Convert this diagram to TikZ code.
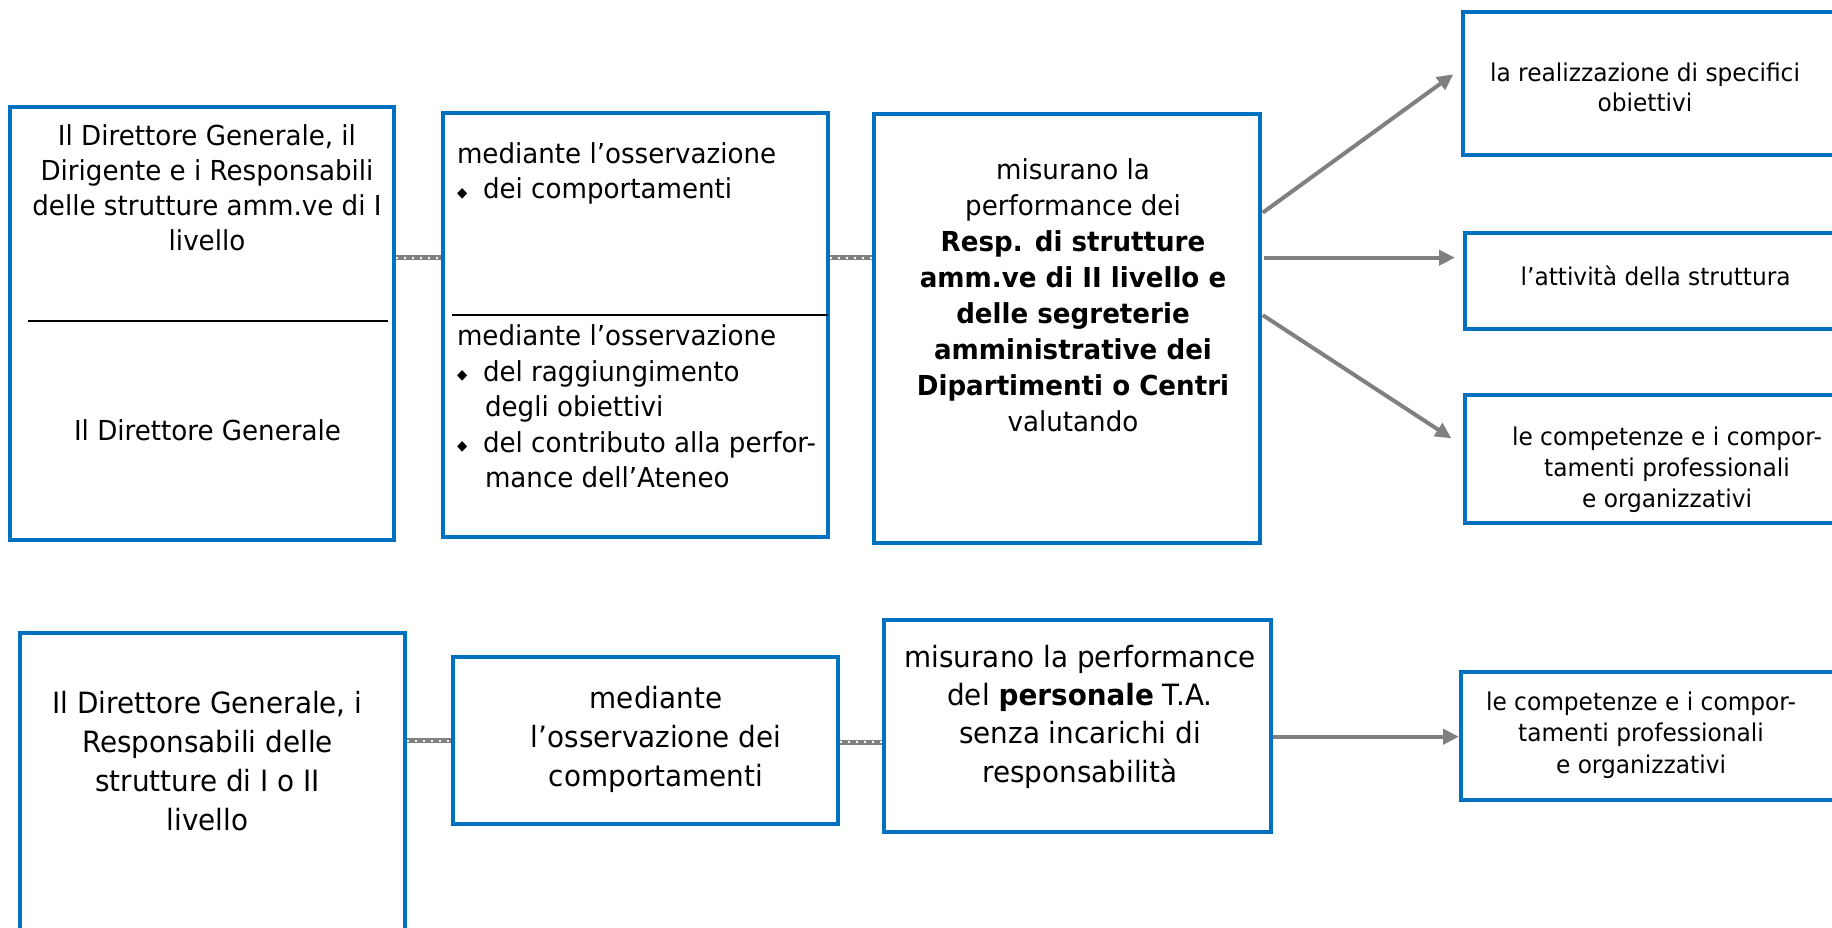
\documentclass[tikz,border=0pt]{standalone}
\usepackage{fontspec}
\setmainfont{DejaVu Sans}[FakeStretch=0.95]
\usetikzlibrary{arrows.meta}
\definecolor{boxblue}{HTML}{0070C0}
\definecolor{lgray}{HTML}{808080}
\newcommand\bul{\makebox[13pt][l]{\raisebox{0.9pt}{\fontsize{7pt}{7pt}\selectfont ◆}}}
\begin{document}
\begin{tikzpicture}[x=0.5pt,y=-0.5pt,
  box/.style={draw=boxblue,line width=2pt,rectangle,inner sep=0pt,outer sep=0pt,anchor=north west},
  txt/.style={inner sep=0pt,outer sep=0pt,align=center,anchor=north},
  ltxt/.style={inner sep=0pt,outer sep=0pt,align=left,anchor=north west},
  fA/.style={font=\fontsize{13.75pt}{17.5pt}\selectfont},
  fB/.style={font=\fontsize{13.75pt}{17.75pt}\selectfont},
  fC/.style={font=\fontsize{13.75pt}{18pt}\selectfont},
  fD/.style={font=\fontsize{14.65pt}{19.4pt}\selectfont},
  fR/.style={font=\fontsize{12.25pt}{15.4pt}\selectfont},
  conn/.style={draw=lgray,line width=2.3pt,shorten <=1pt,shorten >=1pt,
    postaction={draw=white,line width=1pt,dash pattern=on 1pt off 3pt}},
  arr/.style={draw=lgray,line width=2pt,-{Triangle[length=8pt,width=7.5pt]}},
  divider/.style={draw=black,line width=0.9pt}]
\useasboundingbox (0,0) rectangle (1832,927);
% top row boxes
\node[box,minimum width=192pt,minimum height=216.75pt] (A) at (10,106.5) {};
\node[box,minimum width=192.25pt,minimum height=212.15pt] (B) at (443,113) {};
\node[box,minimum width=192.75pt,minimum height=214.5pt] (C) at (874,113.5) {};
\node[box,minimum width=192.5pt,minimum height=71.65pt] (R1) at (1462.7,11.7) {};
\node[box,minimum width=192.5pt,minimum height=48pt] (R2) at (1464.6,233.3) {};
\node[box,minimum width=192.5pt,minimum height=64.15pt] (R3) at (1464.6,395) {};
% bottom row boxes
\node[box,minimum width=192.5pt,minimum height=155pt] (D) at (20,632.7) {};
\node[box,minimum width=192.2pt,minimum height=83.8pt] (E) at (453.3,656.7) {};
\node[box,minimum width=193.5pt,minimum height=106pt] (F) at (883.5,620) {};
\node[box,minimum width=192.5pt,minimum height=64.15pt] (G) at (1461,671.7) {};
% dividers
\draw[divider] (28,321) -- (388,321);
\draw[divider] (452,315) -- (827.5,315);
% texts
\node[txt,fA] (At1) at (207,124.6) {Il Direttore Generale, il\\Dirigente e i Responsabili\\delle strutture amm.ve di I\\livello};
\node[txt,fA] (At2) at (207.5,419.6) {Il Direttore Generale};
\node[ltxt,fB] (Bt1) at (457,142.6) {mediante l’osservazione\\\bul dei comportamenti};
\node[ltxt,fB] (Bt2) at (457,324.6) {mediante l’osservazione\\\bul del raggiungimento\\\hspace*{14pt}degli obiettivi\\\bul del contributo alla perfor-\\\hspace*{14pt}mance dell’Ateneo};
\node[txt,fC] (Ct) at (1073,159) {misurano la\\performance dei\\\textbf{Resp. di strutture}\\\textbf{amm.ve di II livello e}\\\textbf{delle segreterie}\\\textbf{amministrative dei}\\\textbf{Dipartimenti o Centri}\\valutando};
\node[txt,fR] (R1t) at (1645,62.5) {la realizzazione di specifici\\obiettivi};
\node[txt,fR] (R2t) at (1655.6,266.1) {l’attività della struttura};
\node[txt,fR] (R3t) at (1667,427) {le competenze e i compor-\\tamenti professionali\\e organizzativi};
\node[txt,fD] (Dt) at (207.5,691.5) {Il Direttore Generale, i\\Responsabili delle\\strutture di I o II\\livello};
\node[txt,fD] (Et) at (656,686.5) {mediante\\l’osservazione dei\\comportamenti};
\node[txt,fD,font=\fontsize{14.65pt}{19.15pt}\selectfont] (Ft) at (1080,645) {misurano la performance\\del \textbf{personale} T.A.\\senza incarichi di\\responsabilità};
\node[txt,fR,font=\fontsize{12.25pt}{15.85pt}\selectfont] (Gt) at (1641,691.5) {le competenze e i compor-\\tamenti professionali\\e organizzativi};
% connectors
\coordinate (yAB) at (0,257.7);
\coordinate (yDE) at (0,740.5);
\coordinate (yEF) at (0,742.3);
\coordinate (yFG) at (0,736.7);
\draw[conn] (A.east |- yAB) -- (B.west |- yAB);
\draw[conn] (B.east |- yAB) -- (C.west |- yAB);
\draw[conn] (D.east |- yDE) -- (E.west |- yDE);
\draw[conn] (E.east |- yEF) -- (F.west |- yEF);
% arrows
\coordinate (y1) at (0,215);
\coordinate (y3) at (0,313);
\coordinate (t1) at (1453.3,74.3);
\coordinate (t2) at (1455,257.7);
\coordinate (t3) at (1451.4,438.3);
\draw[arr,shorten <=2pt] (C.east |- y1) -- (t1);
\draw[arr,shorten <=2pt] (C.east |- yAB) -- (t2);
\draw[arr,shorten <=2pt] (C.east |- y3) -- (t3);
\draw[arr,shorten <=1pt,shorten >=1pt] (F.east |- yFG) -- (G.west |- yFG);
\end{tikzpicture}
\end{document}
